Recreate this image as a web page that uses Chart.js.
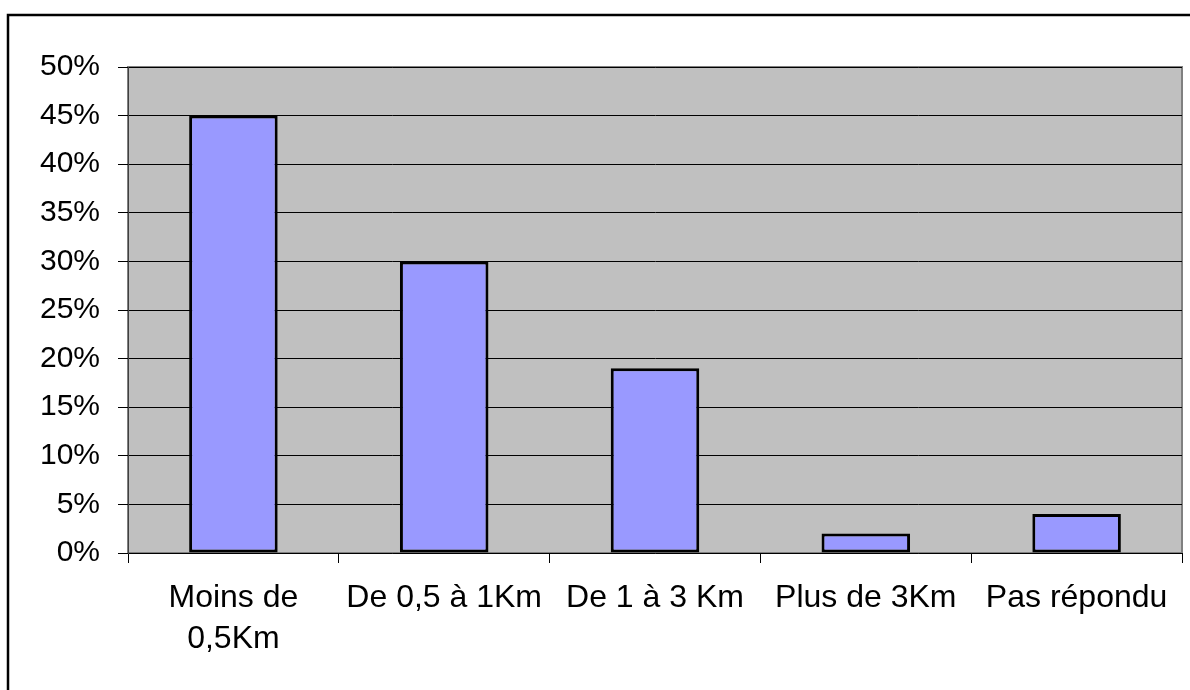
<!DOCTYPE html>
<html><head><meta charset="utf-8">
<script src="https://cdn.jsdelivr.net/npm/chart.js@4/dist/chart.umd.min.js"></script>
<style>html,body{margin:0;padding:0;background:#fff;}#wrap{width:1190px;height:690px;position:relative;}</style>
</head><body><div id="wrap"><canvas id="c" width="1190" height="690"></canvas></div>
<script>
const categories = [["Moins de","0,5Km"], "De 0,5 à 1Km", "De 1 à 3 Km", "Plus de 3Km", "Pas répondu"];
const values = [45, 30, 19, 2, 4];
const yTicks = [0, 5, 10, 15, 20, 25, 30, 35, 40, 45, 50];

const frame = {
  id: 'frame',
  beforeDraw(chart) {
    const {ctx, chartArea: a} = chart;
    ctx.save();
    ctx.fillStyle = '#c0c0c0';
    ctx.fillRect(a.left, a.top, a.right - a.left, a.bottom - a.top);
    ctx.strokeStyle = '#808080';
    ctx.lineWidth = 2;
    ctx.strokeRect(a.left, a.top, a.right - a.left, a.bottom - a.top);
    ctx.strokeStyle = '#000';
    ctx.lineWidth = 2.5;
    ctx.beginPath();
    ctx.moveTo(8, 700); ctx.lineTo(8, 15); ctx.lineTo(1200, 15);
    ctx.stroke();
    ctx.restore();
  }
};

new Chart(document.getElementById('c'), {
  type: 'bar',
  data: {
    labels: categories,
    datasets: [{
      data: values,
      backgroundColor: '#9999ff',
      borderColor: '#000',
      borderWidth: 3,
      borderSkipped: false,
      categoryPercentage: 1,
      barPercentage: 0.42
    }]
  },
  options: {
    responsive: false,
    animation: false,
    devicePixelRatio: 1,
    layout: {padding: {top: 67, right: 8, bottom: 0, left: 0}},
    plugins: {legend: {display: false}, tooltip: {enabled: false}},
    scales: {
      x: {
        grid: {display: true, drawOnChartArea: false, drawTicks: true, tickLength: 10, color: '#000', offset: true},
        border: {display: false},
        ticks: {color: '#000', font: {family: 'Liberation Sans', size: 32, lineHeight: 1.3}, padding: 14, maxRotation: 0, autoSkip: false},
        afterFit(s) { s.height = 137; }
      },
      y: {
        min: 0, max: 50,
        afterBuildTicks(s) { s.ticks = yTicks.map(v => ({value: v})); },
        grid: {color: '#000', lineWidth: 1, tickLength: 10, drawTicks: true},
        border: {display: true, color: '#404040', width: 1},
        ticks: {color: '#000', font: {family: 'Liberation Sans', size: 30}, padding: 18, callback: v => v + '%'},
        afterFit(s) { s.width = 128; }
      }
    }
  },
  plugins: [frame]
});
</script></body></html>
